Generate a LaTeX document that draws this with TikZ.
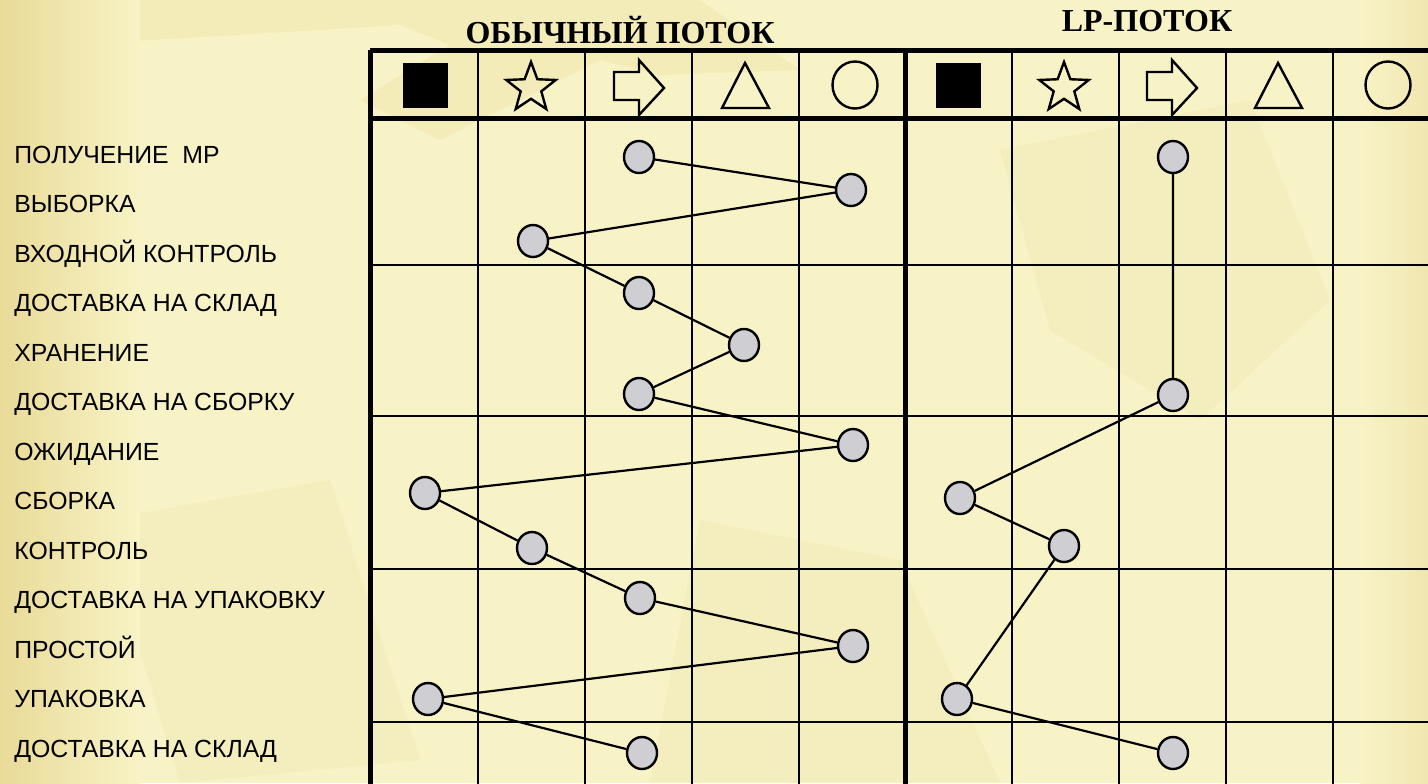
\documentclass[tikz,border=0pt]{standalone}
\usepackage{fontspec}
\setmainfont{Liberation Serif}
\setsansfont{Liberation Sans}
\usetikzlibrary{shapes.geometric, positioning}

\definecolor{paper}{HTML}{F8F3C6}
\definecolor{paperdark}{HTML}{F0E6B0}
\definecolor{leftedge}{HTML}{E9DA98}
\definecolor{dotgray}{HTML}{CFCFD3}

\begin{document}
\begin{tikzpicture}[x=0.5pt, y=-0.5pt,
        grid/.style={draw, line width=1.3pt},
        frame/.style={draw, line width=2.5pt},
        dot/.style={ellipse, draw, line width=1.2pt, fill=dotgray, minimum width=15pt, minimum height=16pt, inner sep=0pt},
        stage/.style={anchor=base west, inner sep=0pt, font=\sffamily\fontsize{12.4}{14}\selectfont},
        title/.style={font=\bfseries\fontsize{16}{18}\selectfont},
        flow/.style={draw, line width=1.1pt},
        icon/.style={draw, line width=1.2pt}]

        % background
        \useasboundingbox (0,0) rectangle (1428,783);
        \clip (0,0) rectangle (1428,783);
        \fill[paper] (0,0) rectangle (1428,783);
        \fill[paperdark, opacity=0.6] (50,20) -- (130,0) -- (700,0) -- (800,70) -- (660,75) -- (600,60) -- (440,140) -- (360,100) -- (450,45) -- (400,25) -- (70,45) -- cycle;
        \fill[paperdark, opacity=0.4] (1000,150) -- (1250,100) -- (1330,300) -- (1200,420) -- (1050,330) -- cycle;
        \fill[paperdark, opacity=0.4] (100,520) -- (330,480) -- (420,760) -- (180,783) -- cycle;
        \fill[paperdark, opacity=0.4] (700,520) -- (900,560) -- (1000,783) -- (650,783) -- cycle;
        \shade[left color=leftedge, right color=paper] (0,0) rectangle (140,783);
        \shade[left color=paper, right color=paperdark] (1360,0) rectangle (1428,783);

        % headings
        \node[title] (plain) at (620,30) {ОБЫЧНЫЙ ПОТОК};
        \node[title] (lean) at (1147,21) {LP-ПОТОК};

        % grid
        \foreach \x in {478,585,692,799,1012,1119,1226,1333}
            \draw[grid] (\x,50) -- (\x,790);
        \foreach \y in {265,416,569,722}
            \draw[grid] (370,\y) -- (1440,\y);
        \foreach \x in {370,905}
            \draw[frame] (\x,50) -- (\x,790);
        \draw[frame] (370,50) -- (1440,50);
        \draw[frame] (370,118) -- (1440,118);

        % header icons
        \foreach \dx in {0,533} {
            \fill (403+\dx,63) rectangle (448+\dx,108);
            \node[star, star points=5, star point ratio=2.4, icon, minimum size=26pt, inner sep=0pt] (star\dx) at (531+\dx,88) {};
            \draw[icon] (614+\dx,72) -- (639+\dx,72) -- (639+\dx,60) -- (664+\dx,88) -- (639+\dx,115) -- (639+\dx,100) -- (614+\dx,100) -- cycle;
            \draw[icon] (722+\dx,108) -- (745+\dx,63) -- (769+\dx,108) -- cycle;
            \draw[icon] (855+\dx,85) ellipse [x radius=22.5, y radius=23.5];
        }

        % stages
        \node[stage] (s1) at (14,163) {ПОЛУЧЕНИЕ\ \ МР};
        \node[stage] (s2) at (14,212.5) {ВЫБОРКА};
        \node[stage] (s3) at (14,262) {ВХОДНОЙ КОНТРОЛЬ};
        \node[stage] (s4) at (14,311.5) {ДОСТАВКА НА СКЛАД};
        \node[stage] (s5) at (14,361) {ХРАНЕНИЕ};
        \node[stage] (s6) at (14,410.5) {ДОСТАВКА НА СБОРКУ};
        \node[stage] (s7) at (14,460) {ОЖИДАНИЕ};
        \node[stage] (s8) at (14,509.5) {СБОРКА};
        \node[stage] (s9) at (14,559) {КОНТРОЛЬ};
        \node[stage] (s10) at (14,608.5) {ДОСТАВКА НА УПАКОВКУ};
        \node[stage] (s11) at (14,658) {ПРОСТОЙ};
        \node[stage] (s12) at (14,707.5) {УПАКОВКА};
        \node[stage] (s13) at (14,757) {ДОСТАВКА НА СКЛАД};

        % usual flow
        \node[dot] (a1) at (639,157) {};
        \node[dot] (a2) at (851,190) {};
        \node[dot] (a3) at (533,241) {};
        \node[dot] (a4) at (639,293) {};
        \node[dot] (a5) at (744,345) {};
        \node[dot] (a6) at (639,394) {};
        \node[dot] (a7) at (853,445) {};
        \node[dot] (a8) at (425,493) {};
        \node[dot] (a9) at (532,548) {};
        \node[dot] (a10) at (640,598) {};
        \node[dot] (a11) at (853,646) {};
        \node[dot] (a12) at (428,699) {};
        \node[dot] (a13) at (642,753) {};

        \path[flow] (a1) -- (a2) -- (a3) -- (a4) -- (a5) -- (a6) -- (a7);
        \path[flow] (a7) -- (a8) -- (a9) -- (a10) -- (a11) -- (a12) -- (a13);

        % lp flow
        \node[dot] (b1) at (1173,157) {};
        \node[dot] (b2) at (1173,395) {};
        \node[dot] (b3) at (960,498) {};
        \node[dot] (b4) at (1064,546) {};
        \node[dot] (b5) at (957,699) {};
        \node[dot] (b6) at (1173,753) {};

        \path[flow] (b1) -- (b2) -- (b3) -- (b4) -- (b5) -- (b6);
\end{tikzpicture}
\end{document}
